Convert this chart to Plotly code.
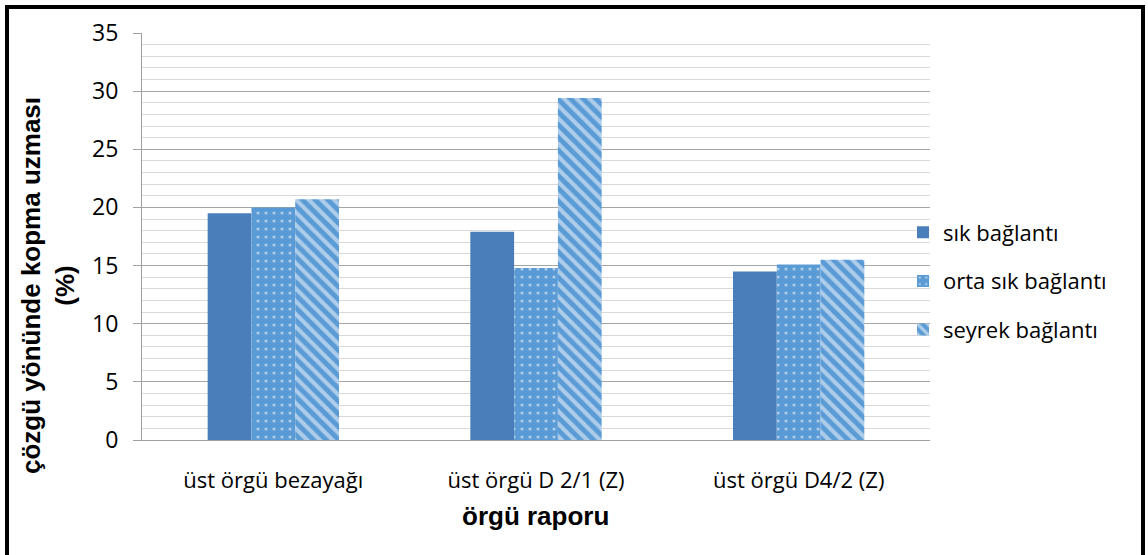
import plotly.graph_objects as go

categories = ["üst örgü bezayağı", "üst örgü D 2/1 (Z)", "üst örgü D4/2 (Z)"]
series_names = ["sık bağlantı", "orta sık bağlantı", "seyrek bağlantı"]
sik = [19.5, 17.9, 14.5]
orta = [20.0, 14.8, 15.1]
seyrek = [20.7, 29.4, 15.5]
y_ticks = [0, 5, 10, 15, 20, 25, 30, 35]

W, H = 1148, 555
L, R, T, B = 142, 930, 33, 440

def px(x):
    return (x - L) / (R - L)

def py(y):
    return (B - y) / (B - T)

fig = go.Figure()
fig.add_trace(go.Bar(
    x=categories, y=sik, name=series_names[0], legendgroup="a",
    marker=dict(color="#4A7EBB", line=dict(width=0)),
))
fig.add_trace(go.Bar(
    x=categories, y=orta, name=series_names[1], legendgroup="b",
    marker=dict(color="#5B9BD5", line=dict(width=0),
                pattern=dict(shape=".", fgcolor="white", bgcolor="#5B9BD5",
                             size=8, solidity=0.12)),
))
fig.add_trace(go.Bar(
    x=categories, y=seyrek, name=series_names[2], legendgroup="c",
    marker=dict(color="#5B9BD5", line=dict(width=0),
                pattern=dict(shape="\\", fgcolor="white", bgcolor="#5B9BD5",
                             size=9, solidity=0.45)),
))

fig.update_layout(
    width=W, height=H,
    margin=dict(l=L, r=W - R, t=T, b=H - B),
    paper_bgcolor="white", plot_bgcolor="white",
    barmode="group", bargap=0.5, bargroupgap=0,
    font=dict(family="Open Sans", color="black"),
    showlegend=True,
    legend=dict(x=px(903), y=py(281), xanchor="left", yanchor="middle",
                font=dict(size=22, family="Open Sans"), tracegroupgap=17,
                itemwidth=30, bgcolor="rgba(0,0,0,0)"),
    xaxis=dict(
        showline=True, linecolor="#A0A0A0", linewidth=1,
        ticks="", tickfont=dict(size=22, family="Open Sans"),
        ticklabelstandoff=21, showgrid=False,
    ),
    yaxis=dict(
        range=[0, 35], tickvals=y_ticks, showline=True, linecolor="#A0A0A0",
        linewidth=1, ticks="outside", ticklen=8, tickcolor="#A0A0A0",
        tickfont=dict(size=23, family="Open Sans"), ticklabelstandoff=10,
        showgrid=True, gridcolor="#A6A6A6", gridwidth=1, zeroline=False,
        minor=dict(dtick=1, showgrid=True, gridcolor="#D9D9D9", gridwidth=1,
                   ticks=""),
    ),
    annotations=[
        dict(text="<b>çözgü yönünde kopma uzması<br>(%)</b>", textangle=-90,
             xref="paper", yref="paper", x=px(48), y=py(286),
             xanchor="center", yanchor="middle", showarrow=False,
             font=dict(size=26, family="Liberation Sans")),
        dict(text="<b>örgü raporu</b>", xref="paper", yref="paper",
             x=px(535), y=py(516), xanchor="center", yanchor="middle",
             showarrow=False, font=dict(size=26, family="Liberation Sans")),
    ],
    shapes=[
        dict(type="rect", xref="paper", yref="paper",
             x0=px(7), x1=px(1143), y0=py(575), y1=py(7),
             line=dict(color="black", width=4), fillcolor="rgba(0,0,0,0)",
             layer="above"),
    ],
)

fig.write_html("out.html", config={"displayModeBar": False},
               post_script="document.body.style.margin='0';document.body.style.overflow='hidden';")
